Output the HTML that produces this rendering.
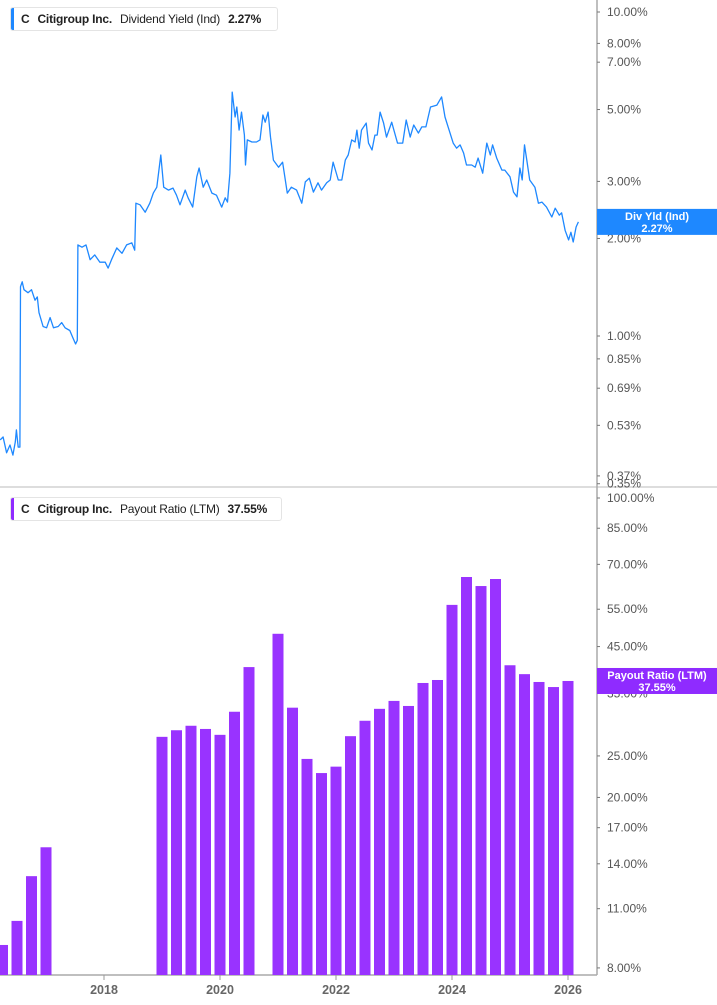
<!DOCTYPE html>
<html><head><meta charset="utf-8"><style>
body{margin:0;background:#fff;font-family:"Liberation Sans",sans-serif;}
#wrap{position:relative;width:717px;height:1005px;overflow:hidden;}
.legend{position:absolute;background:#fff;border:1px solid #e4e4e4;border-radius:3px;font-size:12px;font-weight:bold;color:#222;display:flex;align-items:center;height:24px;box-sizing:border-box;padding-left:10px;white-space:nowrap;letter-spacing:-0.2px;}
.legend .bar{position:absolute;left:0;top:0;bottom:0;width:3px;border-radius:2px 0 0 2px;}
.legend span{margin-right:8px;flex:none;}
</style></head><body>
<div id="wrap">
<svg id="svg" width="717" height="1005" xmlns="http://www.w3.org/2000/svg" style="position:absolute;left:0;top:0"></svg>
<div class="legend" style="left:10px;top:7px;width:268px"><div class="bar" style="background:#1e88ff"></div><span>C</span><span>Citigroup Inc.</span><span style="font-weight:normal">Dividend Yield (Ind)</span><span>2.27%</span></div>
<div class="legend" style="left:10px;top:497px;width:272px"><div class="bar" style="background:#8f2bff"></div><span>C</span><span>Citigroup Inc.</span><span style="font-weight:normal">Payout Ratio (LTM)</span><span>37.55%</span></div>
</div>
<script>
const yieldDates=[2016.21,2016.26,2016.32,2016.38,2016.43,2016.47,2016.49,2016.52,2016.55,2016.56,2016.59,2016.62,2016.69,2016.75,2016.81,2016.85,2016.88,2016.95,2017.01,2017.07,2017.13,2017.21,2017.27,2017.33,2017.41,2017.46,2017.51,2017.54,2017.55,2017.62,2017.69,2017.76,2017.84,2017.93,2018.02,2018.07,2018.13,2018.22,2018.31,2018.39,2018.48,2018.53,2018.55,2018.62,2018.71,2018.79,2018.85,2018.91,2018.98,2019.03,2019.11,2019.19,2019.25,2019.31,2019.40,2019.45,2019.53,2019.60,2019.64,2019.71,2019.77,2019.86,2019.94,2020.03,2020.09,2020.13,2020.17,2020.21,2020.26,2020.29,2020.33,2020.37,2020.42,2020.44,2020.47,2020.55,2020.63,2020.69,2020.74,2020.78,2020.83,2020.87,2020.92,2021.01,2021.08,2021.16,2021.23,2021.32,2021.41,2021.47,2021.54,2021.61,2021.69,2021.75,2021.84,2021.90,2021.95,2022.04,2022.10,2022.16,2022.21,2022.27,2022.33,2022.36,2022.40,2022.44,2022.52,2022.56,2022.62,2022.67,2022.71,2022.76,2022.82,2022.87,2022.96,2023.06,2023.15,2023.21,2023.28,2023.34,2023.42,2023.48,2023.55,2023.63,2023.74,2023.82,2023.88,2023.95,2024.02,2024.08,2024.14,2024.20,2024.25,2024.34,2024.40,2024.45,2024.53,2024.60,2024.66,2024.70,2024.77,2024.86,2024.91,2025.00,2025.06,2025.12,2025.17,2025.21,2025.25,2025.29,2025.34,2025.43,2025.49,2025.55,2025.63,2025.72,2025.78,2025.85,2025.89,2025.95,2026.01,2026.05,2026.09,2026.14,2026.18];
const yieldValues=[0.478,0.488,0.436,0.461,0.429,0.471,0.513,0.454,0.454,1.42,1.47,1.39,1.36,1.39,1.29,1.32,1.18,1.07,1.06,1.14,1.06,1.07,1.10,1.06,1.04,0.99,0.945,0.97,1.91,1.88,1.91,1.72,1.78,1.69,1.69,1.62,1.72,1.87,1.80,1.91,1.94,1.84,2.57,2.54,2.41,2.57,2.76,2.88,3.62,2.88,2.82,2.86,2.72,2.54,2.82,2.67,2.50,3.10,3.30,2.88,3.03,2.76,2.72,2.50,2.67,2.59,3.18,5.66,4.74,5.09,4.32,4.91,4.17,3.37,4.03,3.97,3.97,4.03,4.81,4.57,4.91,4.11,3.49,3.32,3.44,2.76,2.88,2.82,2.57,2.99,3.07,2.78,2.97,2.82,2.97,3.03,3.44,3.03,3.03,3.49,3.62,4.03,3.97,4.32,3.80,4.32,4.54,3.94,3.75,4.17,4.17,4.91,4.54,4.11,4.57,3.94,3.94,4.64,4.11,4.48,4.23,4.42,4.42,5.09,5.16,5.47,4.74,4.32,3.94,3.80,3.89,3.67,3.37,3.37,3.32,3.54,3.18,3.94,3.62,3.89,3.54,3.25,3.25,3.10,2.78,2.69,3.30,3.03,3.89,3.49,3.03,2.88,2.57,2.59,2.50,2.33,2.48,2.36,2.40,2.12,1.98,2.09,1.95,2.17,2.25];
const payoutQuartersBack=[39,38,37,36,28,27,26,25,24,23,22,21,20,19,18,17,16,15,14,13,12,11,10,9,8,7,6,5,4,3,2,1,0];
const payoutValues=[9.05,10.3,13.1,15.3,27.7,28.7,29.4,28.9,28.0,31.7,40.3,null,48.2,32.4,24.6,22.8,23.6,27.8,30.2,32.2,33.6,32.7,37.0,37.6,56.3,65.4,62.3,64.7,40.7,38.8,37.2,36.2,37.4];
const yieldTicks=[10,8,7,5,3,2,1,0.85,0.69,0.53,0.37,0.35];
const payoutTicks=[100,85,70,55,45,35,25,20,17,14,11,8];
const yearTicks=[2018,2020,2022,2024,2026];

const NS='http://www.w3.org/2000/svg';
const svg=document.getElementById('svg');
function el(t,a,p){const e=document.createElementNS(NS,t);for(const k in a)e.setAttribute(k,a[k]);(p||svg).appendChild(e);return e;}
const xOf=yr=>104+(yr-2018)*58;
const yTop=v=>336-324*Math.log10(v);
const yBot=v=>498+428.4*Math.log10(100/v);
const AX=597;

let d=el('line',{x1:0,x2:717,y1:487,y2:487,stroke:'#ddd','stroke-width':2});

let va=el('line',{x1:AX,x2:AX,y1:0,y2:975,stroke:'#aaa','stroke-width':1.5});

let xa=el('line',{x1:0,x2:AX,y1:975,y2:975,stroke:'#aaa','stroke-width':1.5});


yieldTicks.forEach(v=>{const y=yTop(v);
 el('line',{x1:AX,x2:AX+3,y1:y,y2:y,stroke:'#777'});
 const t=el('text',{x:607,y:y+4,'font-size':12,fill:'#555'});t.textContent=v.toFixed(2)+'%';
 
 });
payoutTicks.forEach(v=>{const y=yBot(v);
 el('line',{x1:AX,x2:AX+3,y1:y,y2:y,stroke:'#777'});
 const t=el('text',{x:607,y:y+4,'font-size':12,fill:'#555'});t.textContent=v.toFixed(2)+'%';
 
 });
yearTicks.forEach(yr=>{const x=xOf(yr);
 el('line',{x1:x,x2:x,y1:975,y2:980,stroke:'#999'});
 const t=el('text',{x:x,y:994,'font-size':12.5,'font-weight':'bold',fill:'#666','text-anchor':'middle'});t.textContent=yr;
 
 });

let pts=yieldDates.map((dt,i)=>xOf(dt).toFixed(1)+','+yTop(yieldValues[i]).toFixed(1)).join(' ');
const line=el('polyline',{points:pts,fill:'none',stroke:'#1e88ff','stroke-width':1.3,'stroke-linejoin':'round'});



payoutValues.forEach((v,i)=>{if(v==null)return;
 const x=xOf(2026-payoutQuartersBack[i]/4);const y=yBot(v);
 const r=el('rect',{x:x-5.5,y:y,width:11,height:975-y,fill:'#9933ff'});
 
 });

function tag(y,c,l1,l2,name){const g=el('g',{});
 
 
 el('rect',{x:AX,y:y-13,width:120,height:26,fill:c},g);
 const a=el('text',{x:657,y:y-2,'font-size':11,'font-weight':'bold',fill:'#fff','text-anchor':'middle'},g);a.textContent=l1;
 const b=el('text',{x:657,y:y+10,'font-size':11,'font-weight':'bold',fill:'#fff','text-anchor':'middle'},g);b.textContent=l2;}
tag(yTop(yieldValues[yieldValues.length-1]),'#1e88ff','Div Yld (Ind)','2.27%','yield-value-tag');
tag(yBot(payoutValues[payoutValues.length-1]),'#8f2bff','Payout Ratio (LTM)','37.55%','payout-value-tag');
</script>
</body></html>
